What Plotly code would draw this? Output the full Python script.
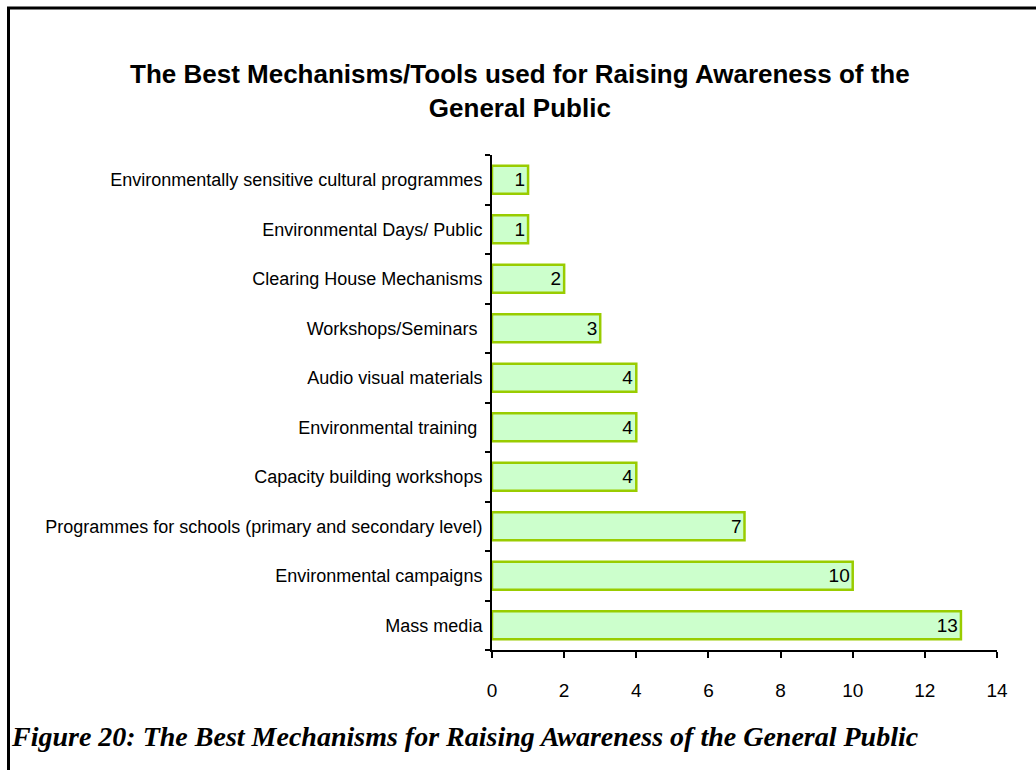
import plotly.graph_objects as go

# Survey responses, listed bottom-to-top as drawn on the category axis
mechanisms = [
    "Mass media",
    "Environmental campaigns",
    "Programmes for schools (primary and secondary level)",
    "Capacity building workshops",
    "Environmental training\u00a0",
    "Audio visual materials",
    "Workshops/Seminars\u00a0",
    "Clearing House Mechanisms",
    "Environmental Days/ Public",
    "Environmentally sensitive cultural programmes",
]
responses = [13, 10, 7, 4, 4, 4, 3, 2, 1, 1]
x_ticks = [0, 2, 4, 6, 8, 10, 12, 14]

W, H = 1036, 770
L, R, T, B = 492, 39, 155, 120
pw, ph = W - L - R, H - T - B


def px_x(p):
    return (p - L) / pw


def px_y(p):
    return (H - B - p) / ph


fig = go.Figure(
    go.Bar(
        x=responses,
        y=mechanisms,
        orientation="h",
        marker=dict(color="#CCFFCC", line=dict(color="#99CC00", width=2.5)),
        width=0.57,
        text=[str(v) for v in responses],
        textposition="inside",
        insidetextanchor="end",
        textfont=dict(family="Arial, Liberation Sans", size=19, color="black"),
        cliponaxis=False,
    )
)

fig.update_layout(
    width=W,
    height=H,
    margin=dict(l=L, r=R, t=T, b=B, autoexpand=False),
    paper_bgcolor="white",
    plot_bgcolor="white",
    showlegend=False,
    font=dict(family="Arial, Liberation Sans", color="black"),
    uniformtext=dict(minsize=19, mode="show"),
)

fig.update_xaxes(
    range=[0, 14],
    tickvals=x_ticks,
    ticktext=[str(v) for v in x_ticks],
    showgrid=False,
    zeroline=False,
    showline=True,
    linecolor="black",
    linewidth=2,
    ticks="outside",
    ticklen=6,
    tickwidth=2,
    tickcolor="black",
    tickfont=dict(size=19),
    ticklabelstandoff=16,
)

fig.update_yaxes(
    type="category",
    categoryorder="array",
    categoryarray=mechanisms,
    range=[-0.5, len(mechanisms) - 0.5],
    showgrid=False,
    zeroline=False,
    showline=True,
    linecolor="black",
    linewidth=2,
    ticks="outside",
    tickson="boundaries",
    ticklen=5,
    tickwidth=2,
    tickcolor="black",
    tickfont=dict(size=18),
    ticklabelstandoff=4,
)

# Frame around the chart
fig.add_shape(
    type="rect",
    xref="paper",
    yref="paper",
    x0=px_x(8.5),
    x1=px_x(W + 10),
    y0=px_y(H + 10),
    y1=px_y(8),
    line=dict(color="black", width=3),
    fillcolor="rgba(0,0,0,0)",
    layer="below",
)

# Chart title
fig.add_annotation(
    xref="paper",
    yref="paper",
    x=px_x(520),
    y=px_y(91),
    xanchor="center",
    yanchor="middle",
    showarrow=False,
    align="center",
    text="<b>The Best Mechanisms/Tools used for Raising Awareness of the<br>General Public</b>",
    font=dict(family="Arial, Liberation Sans", size=26, color="black"),
)

# Figure caption
fig.add_annotation(
    xref="paper",
    yref="paper",
    x=px_x(9),
    y=px_y(736),
    xanchor="left",
    yanchor="middle",
    showarrow=False,
    text="<b><i>Figure 20: The Best Mechanisms for Raising Awareness of the General Public</i></b>",
    font=dict(family="Liberation Serif, Times New Roman", size=28, color="black"),
)

fig.write_html("out.html")
